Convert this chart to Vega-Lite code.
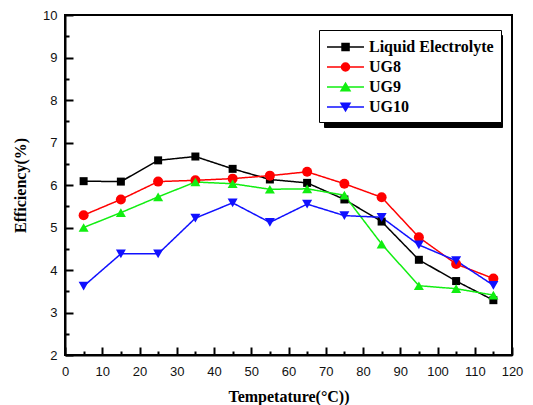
{
  "$schema": "https://vega.github.io/schema/vega-lite/v6.json",
  "width": 447,
  "height": 340,
  "autosize": {"type": "none"},
  "padding": {"left": 65, "top": 15, "right": 21, "bottom": 50},
  "background": "white",
  "config": {
    "view": {"stroke": "black", "strokeWidth": 2},
    "axis": {
      "domainColor": "black",
      "domainWidth": 2,
      "tickColor": "black",
      "tickWidth": 2,
      "labelFont": "Liberation Sans",
      "labelFontSize": 13,
      "labelColor": "#111",
      "titleFont": "Liberation Serif",
      "titleFontSize": 16,
      "titleFontWeight": "bold",
      "titleColor": "black",
      "grid": false
    },
    "legend": {
      "labelFont": "Liberation Serif",
      "labelFontWeight": "bold",
      "labelFontSize": 16,
      "labelColor": "black",
      "symbolSize": 324,
      "labelOffset": 23,
      "padding": 7,
      "rowPadding": 2,
      "symbolStrokeWidth": 1.5
    }
  },
  "data": {
    "values": [
      {"series": "Liquid Electrolyte", "T": 5, "eff": 6.09},
      {"series": "Liquid Electrolyte", "T": 15, "eff": 6.08},
      {"series": "Liquid Electrolyte", "T": 25, "eff": 6.58},
      {"series": "Liquid Electrolyte", "T": 35, "eff": 6.67},
      {"series": "Liquid Electrolyte", "T": 45, "eff": 6.38},
      {"series": "Liquid Electrolyte", "T": 55, "eff": 6.13},
      {"series": "Liquid Electrolyte", "T": 65, "eff": 6.05},
      {"series": "Liquid Electrolyte", "T": 75, "eff": 5.66},
      {"series": "Liquid Electrolyte", "T": 85, "eff": 5.14},
      {"series": "Liquid Electrolyte", "T": 95, "eff": 4.24},
      {"series": "Liquid Electrolyte", "T": 105, "eff": 3.74},
      {"series": "Liquid Electrolyte", "T": 115, "eff": 3.29},
      {"series": "UG8", "T": 5, "eff": 5.29},
      {"series": "UG8", "T": 15, "eff": 5.66},
      {"series": "UG8", "T": 25, "eff": 6.08},
      {"series": "UG8", "T": 35, "eff": 6.11},
      {"series": "UG8", "T": 45, "eff": 6.15},
      {"series": "UG8", "T": 55, "eff": 6.22},
      {"series": "UG8", "T": 65, "eff": 6.31},
      {"series": "UG8", "T": 75, "eff": 6.03},
      {"series": "UG8", "T": 85, "eff": 5.71},
      {"series": "UG8", "T": 95, "eff": 4.77},
      {"series": "UG8", "T": 105, "eff": 4.14},
      {"series": "UG8", "T": 115, "eff": 3.8},
      {"series": "UG9", "T": 5, "eff": 5.0},
      {"series": "UG9", "T": 15, "eff": 5.35},
      {"series": "UG9", "T": 25, "eff": 5.72},
      {"series": "UG9", "T": 35, "eff": 6.07},
      {"series": "UG9", "T": 45, "eff": 6.03},
      {"series": "UG9", "T": 55, "eff": 5.9},
      {"series": "UG9", "T": 65, "eff": 5.91},
      {"series": "UG9", "T": 75, "eff": 5.76},
      {"series": "UG9", "T": 85, "eff": 4.61},
      {"series": "UG9", "T": 95, "eff": 3.63},
      {"series": "UG9", "T": 105, "eff": 3.56},
      {"series": "UG9", "T": 115, "eff": 3.41},
      {"series": "UG10", "T": 5, "eff": 3.62},
      {"series": "UG10", "T": 15, "eff": 4.38},
      {"series": "UG10", "T": 25, "eff": 4.38},
      {"series": "UG10", "T": 35, "eff": 5.22},
      {"series": "UG10", "T": 45, "eff": 5.58},
      {"series": "UG10", "T": 55, "eff": 5.12},
      {"series": "UG10", "T": 65, "eff": 5.55},
      {"series": "UG10", "T": 75, "eff": 5.28},
      {"series": "UG10", "T": 85, "eff": 5.24},
      {"series": "UG10", "T": 95, "eff": 4.59},
      {"series": "UG10", "T": 105, "eff": 4.22},
      {"series": "UG10", "T": 115, "eff": 3.64}
    ]
  },
  "resolve": {"axis": {"x": "independent", "y": "independent"}},
  "layer": [
    {
      "mark": {"type": "line", "strokeWidth": 1.5},
      "encoding": {
        "x": {
          "field": "T",
          "type": "quantitative",
          "scale": {"domain": [0, 120], "nice": false, "zero": false},
          "axis": {
            "title": "Tempetature(°C))",
            "values": [0,10,20,30,40,50,60,70,80,90,100,110,120],
            "tickSize": -8,
            "labelPadding": 18,
            "titlePadding": 10,
            "labelFlush": false,
            "labelOverlap": false
          }
        },
        "y": {
          "field": "eff",
          "type": "quantitative",
          "scale": {"domain": [2, 10], "nice": false, "zero": false},
          "axis": {
            "title": "Efficiency(%)",
            "values": [2,3,4,5,6,7,8,9,10],
            "format": "d",
            "tickSize": -8,
            "labelPadding": 16,
            "titlePadding": 14,
            "labelFlush": false,
            "labelOverlap": false
          }
        },
        "color": {
          "field": "series",
          "type": "nominal",
          "scale": {"domain": ["Liquid Electrolyte", "UG8", "UG9", "UG10"], "range": ["#000000", "#ff0000", "#11ee11", "#1010ff"]},
          "legend": {
            "title": null,
            "orient": "none",
            "legendX": 254,
            "legendY": 15,
            "zindex": 3,
            "fillColor": "white",
            "strokeColor": "black",
            "symbolSize": 324,
            "encode": {
              "symbols": {
                "update": {
                  "fill": {"scale": "color", "field": "value"},
                  "stroke": {"scale": "color", "field": "value"},
                  "strokeWidth": {"value": 1.5},
                  "opacity": {"value": 1},
                  "shape": {"signal": "datum.value === 'Liquid Electrolyte' ? 'M-1,0H3.11M0.67,-0.39H1.45V0.39H0.67Z' : datum.value === 'UG8' ? 'M-1,0H3.11M1.5,0A0.44,0.44,0,1,1,0.61,0A0.44,0.44,0,1,1,1.5,0Z' : datum.value === 'UG9' ? 'M-1,0H3.11M1.056,-0.43L1.556,0.43H0.556Z' : 'M-1,0H3.11M1.056,0.43L1.556,-0.43H0.556Z'"}
                }
              }
            }
          }
        },
        "strokeDash": {
          "field": "series",
          "type": "nominal",
          "sort": ["Liquid Electrolyte", "UG8", "UG9", "UG10"],
          "scale": {"range": [[1, 0], [1, 0], [1, 0], [1, 0]]},
          "legend": {
            "title": null,
            "orient": "none",
            "legendX": 259,
            "legendY": 20,
            "zindex": 2,
            "fillColor": "black",
            "strokeColor": "black",
            "labelColor": "black",
            "labelExpr": "' '",
            "labelOffset": 144,
            "symbolStrokeColor": "black",
            "symbolSize": 324,
            "symbolType": "stroke"
          }
        }
      }
    },
    {
      "mark": {"type": "point", "filled": true, "opacity": 1, "strokeWidth": 0},
      "encoding": {
        "x": {
          "field": "T",
          "type": "quantitative",
          "scale": {"domain": [0, 120], "nice": false, "zero": false},
          "axis": {
            "title": null,
            "orient": "top",
            "offset": -340,
            "values": [5,15,25,35,45,55,65,75,85,95,105,115],
            "labels": false,
            "domain": false,
            "tickSize": 4
          }
        },
        "y": {
          "field": "eff",
          "type": "quantitative",
          "scale": {"domain": [2, 10], "nice": false, "zero": false},
          "axis": {
            "title": null,
            "orient": "right",
            "offset": -447,
            "values": [2.5,3.5,4.5,5.5,6.5,7.5,8.5,9.5],
            "labels": false,
            "domain": false,
            "tickSize": 4
          }
        },
        "color": {
          "field": "series",
          "type": "nominal",
          "scale": {"domain": ["Liquid Electrolyte", "UG8", "UG9", "UG10"], "range": ["#000000", "#ff0000", "#11ee11", "#1010ff"]}
        },
        "shape": {
          "condition": [
            {"test": "datum.series === 'Liquid Electrolyte'", "value": "square"},
            {"test": "datum.series === 'UG8'", "value": "circle"},
            {"test": "datum.series === 'UG9'", "value": "triangle-up"}
          ],
          "value": "triangle-down"
        },
        "size": {
          "condition": {"test": "datum.series === 'Liquid Electrolyte'", "value": 64},
          "value": 100
        }
      }
    }
  ]
}
